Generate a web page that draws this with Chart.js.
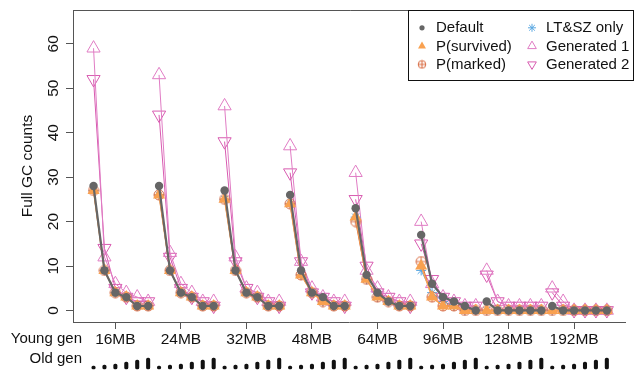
<!DOCTYPE html>
<html>
<head>
<meta charset="utf-8">
<script src="https://cdn.jsdelivr.net/npm/chart.js@4.4.1/dist/chart.umd.min.js"></script>
<style>
  html, body { margin: 0; padding: 0; background: #fff; }
  #wrap { width: 634px; height: 370px; }
</style>
</head>
<body>
<div id="wrap"><canvas id="c" width="634" height="370"></canvas></div>
<script>
// Young generation sizes (one group of runs per size)
const youngGen = ['16MB', '24MB', '32MB', '48MB', '64MB', '96MB', '128MB', '192MB'];
// Old generation size for each run in a group, as a multiple of the young gen
const oldGenFactor = [1, 1.5, 2, 3, 4, 5];
const yTicks = [0, 10, 20, 30, 40, 50, 60];

// Full GC counts, 6 runs per young-gen group
const defaultGC = [28, 9, 4, 3, 1, 1,  28, 9, 4, 3, 1, 1,  27, 9, 4, 3, 1, 1,  26, 9, 4, 3, 1, 1,
                   23, 8, 4, 2, 1, 1,  17, 6, 3, 2, 1, 0,   2, 0, 0, 0, 0, 0,   1, 0, 0, 0, 0, 0];
const pSurvived = [27, 9, 4, 3, 1, 1,  26, 9, 4, 3, 1, 1,  25, 9, 4, 3, 1, 1,  24, 8, 4, 2, 1, 1,
                   21, 7, 3, 2, 1, 1,  10, 3, 1, 1, 0, 0,   0, 0, 0, 0, 0, 0,   0, 0, 0, 0, 0, 0];
const pMarked   = [27, 9, 4, 3, 1, 1,  26, 9, 4, 3, 1, 1,  25, 9, 4, 3, 1, 1,  24, 8, 4, 2, 1, 1,
                   20, 7, 3, 2, 1, 1,  11, 3, 1, 1, 0, 0,   0, 0, 0, 0, 0, 0,   0, 0, 0, 0, 0, 0];
const ltszOnly  = [27, 9, 4, 3, 1, 1,  26, 9, 4, 3, 1, 1,  25, 9, 4, 3, 1, 1,  24, 8, 4, 2, 1, 1,
                   21, 7, 3, 2, 1, 1,   9, 4, 2, 1, 0, 0,   0, 0, 0, 0, 0, 0,   0, 0, 0, 0, 0, 0];
const generated1 = [59, 12, 6, 4, 3, 2,  53, 13, 6, 4, 2, 2,  46, 12, 5, 4, 2, 2,  37, 11, 5, 3, 2, 2,
                    31,  9, 5, 3, 2, 2,  20,  6, 3, 2, 1, 1,   9,  2, 1, 1, 1, 1,   5,  2, 0, 0, 0, 0];
const generated2 = [52, 14, 5, 3, 2, 2,  44, 12, 5, 3, 2, 1,  38, 11, 5, 3, 2, 1,  31, 11, 4, 3, 2, 1,
                    25, 10, 4, 3, 2, 1,  15,  7, 3, 2, 1, 1,   8,  2, 1, 1, 1, 1,   4,  1, 0, 0, 0, 0];

const RUNS = oldGenFactor.length;

// Turn a flat value list into points; a null between groups breaks the line
function toPoints(values) {
  const pts = [];
  youngGen.forEach((_, g) => {
    for (let k = 0; k < RUNS; k++) {
      pts.push({ x: g * RUNS + k + 1, y: values[g * RUNS + k] });
    }
    if (g < youngGen.length - 1) pts.push({ x: g * RUNS + RUNS + 0.5, y: null });
  });
  return pts;
}

// Circle-with-plus marker
function circlePlus(r, color) {
  const c = document.createElement('canvas');
  const s = Math.ceil(2 * r + 2);
  c.width = s; c.height = s;
  const g = c.getContext('2d');
  g.strokeStyle = color; g.lineWidth = 1;
  g.beginPath(); g.arc(s / 2, s / 2, r, 0, Math.PI * 2); g.stroke();
  g.beginPath();
  g.moveTo(s / 2 - r, s / 2); g.lineTo(s / 2 + r, s / 2);
  g.moveTo(s / 2, s / 2 - r); g.lineTo(s / 2, s / 2 + r);
  g.stroke();
  return c;
}

const C_DEFAULT = '#666666';
const C_SURV = '#F9A150';
const C_MARK = '#D86A40';
const C_LTSZ = '#5AA8E2';
const C_GEN1 = '#E07CC4';
const C_GEN2 = '#D85BB0';

const series = [
  { label: 'Default', data: defaultGC, color: C_DEFAULT, lw: 2.2,
    pt: { pointStyle: 'circle', radius: 4.2, fill: true, rotation: 0 },
    lg: { pointStyle: 'circle', radius: 2.6, fill: true, rotation: 0 } },
  { label: 'P(survived)', data: pSurvived, color: C_SURV, lw: 1.5,
    pt: { pointStyle: 'triangle', radius: 7, fill: true, rotation: 0 },
    lg: { pointStyle: 'triangle', radius: 4.6, fill: true, rotation: 0 } },
  { label: 'P(marked)', data: pMarked, color: C_MARK, lw: 1,
    pt: { pointStyle: circlePlus(5, C_MARK), radius: 5, fill: false, rotation: 0 },
    lg: { pointStyle: circlePlus(3.8, C_MARK), radius: 4, fill: false, rotation: 0 } },
  { label: 'LT&SZ only', data: ltszOnly, color: C_LTSZ, lw: 1,
    pt: { pointStyle: 'star', radius: 5, fill: false, rotation: 0 },
    lg: { pointStyle: 'star', radius: 4, fill: false, rotation: 0 } },
  { label: 'Generated 1', data: generated1, color: C_GEN1, lw: 1,
    pt: { pointStyle: 'triangle', radius: 7.6, fill: false, rotation: 0 },
    lg: { pointStyle: 'triangle', radius: 5, fill: false, rotation: 0 } },
  { label: 'Generated 2', data: generated2, color: C_GEN2, lw: 1,
    pt: { pointStyle: 'triangle', radius: 7.6, fill: false, rotation: 180 },
    lg: { pointStyle: 'triangle', radius: 5, fill: false, rotation: 180 } }
];

const lineSets = series.map(s => ({
  type: 'line',
  label: s.label,
  data: toPoints(s.data),
  borderColor: s.color,
  borderWidth: s.lw,
  backgroundColor: s.pt.fill ? s.color : 'rgba(0,0,0,0)',
  pointStyle: s.pt.pointStyle,
  pointRadius: s.pt.radius,
  pointRotation: s.pt.rotation,
  pointBorderWidth: s.pt.fill ? 0 : 1,
  pointBorderColor: s.color,
  pointBackgroundColor: s.pt.fill ? s.color : 'rgba(0,0,0,0)',
  tension: 0,
  spanGaps: false,
  fill: false,
  yAxisID: 'y'
}));

// Old gen size marks under the x axis: bar height grows with the old gen factor
const OLD_BASE = -47;  // in yOld units (1 unit = 1 px below the plot bottom)
const oldGenSet = {
  type: 'bar',
  label: 'Old gen',
  yAxisID: 'yOld',
  data: youngGen.flatMap((_, g) => oldGenFactor.map((f, k) => ({
    x: g * RUNS + k + 1,
    y: [OLD_BASE, OLD_BASE + 1 + 2 * f]
  }))),
  backgroundColor: '#111',
  barThickness: 3.4,
  borderRadius: 2,
  borderSkipped: false,
  grouped: false,
  clip: false
};

const FONT = '"Liberation Sans", Arial, Helvetica, sans-serif';
Chart.defaults.font.family = FONT;
Chart.defaults.color = '#111';

const framePlugin = {
  id: 'frame',
  afterDraw(chart) {
    const { ctx, chartArea: a } = chart;
    ctx.save();
    ctx.strokeStyle = '#555';
    ctx.lineWidth = 1;
    ctx.beginPath();
    ctx.moveTo(a.left, Math.round(a.top) + 0.5);
    ctx.lineTo(a.right + 2, Math.round(a.top) + 0.5);
    ctx.stroke();

    // row captions left of the x axis labels
    const xs = chart.scales.x;
    ctx.fillStyle = '#111';
    ctx.font = '15px ' + FONT;
    ctx.textAlign = 'right';
    ctx.textBaseline = 'alphabetic';
    ctx.fillText('Young gen', 82, xs.top + 20.5);
    ctx.fillText('Old gen', 82, xs.top + 40.5);
    ctx.restore();
  }
};

const legendPlugin = {
  id: 'boxLegend',
  afterDraw(chart) {
    const { ctx, chartArea: a } = chart;
    const left = 408.5, top = Math.round(a.top) + 0.5, right = 633.5, bottom = 80.5;
    ctx.save();
    ctx.fillStyle = '#fff';
    ctx.fillRect(left, top, right - left, bottom - top);
    ctx.strokeStyle = '#111';
    ctx.lineWidth = 1;
    ctx.strokeRect(left, top, right - left, bottom - top);
    const cols = [422, 532];
    const rows = [27.8, 46.1, 64.4];
    ctx.font = '15px ' + FONT;
    ctx.textBaseline = 'middle';
    ctx.textAlign = 'left';
    series.forEach((s, i) => {
      const col = Math.floor(i / 3), row = i % 3;
      const x = cols[col], y = rows[row];
      ctx.save();
      ctx.fillStyle = s.lg.fill ? s.color : 'rgba(0,0,0,0)';
      ctx.strokeStyle = s.color;
      ctx.lineWidth = 1;
      Chart.helpers.drawPoint(ctx, {
        pointStyle: s.lg.pointStyle,
        radius: s.lg.radius,
        rotation: s.lg.rotation,
        borderWidth: s.lg.fill ? 0 : 1
      }, x, y);
      ctx.restore();
      ctx.fillStyle = '#111';
      ctx.fillText(s.label, x + 14, y + 0.5);
    });
    ctx.restore();
  }
};

new Chart(document.getElementById('c'), {
  type: 'line',
  data: { datasets: [...lineSets, oldGenSet] },
  options: {
    responsive: false,
    animation: false,
    events: [],
    layout: { padding: { top: 10, left: 0, right: 0, bottom: 0 } },
    plugins: { legend: { display: false }, tooltip: { enabled: false } },
    scales: {
      x: {
        type: 'linear',
        min: -0.88,
        max: 49.7,
        offset: false,
        afterBuildTicks: s => { s.ticks = youngGen.map((_, g) => ({ value: g * RUNS + 3 })); },
        afterFit: s => { s.height = 48; s.paddingLeft = 0; s.paddingRight = 0; },
        ticks: {
          callback: (v, i) => youngGen[i],
          font: { size: 15.5 },
          color: '#111',
          padding: 1,
          maxRotation: 0,
          minRotation: 0,
          autoSkip: false
        },
        grid: { offset: false, drawOnChartArea: false, drawTicks: true, tickLength: 7, color: '#555', tickWidth: 1 },
        border: { display: true, color: '#555', width: 1 }
      },
      y: {
        type: 'linear',
        min: -2.6,
        max: 67.6,
        afterBuildTicks: s => { s.ticks = yTicks.map(v => ({ value: v })); },
        afterFit: s => { s.width = 73; s.paddingTop = 0; s.paddingBottom = 0; },
        ticks: {
          minRotation: 90,
          maxRotation: 90,
          crossAlign: 'center',
          padding: 4,
          font: { size: 15.5 },
          color: '#111'
        },
        title: {
          display: true,
          text: 'Full GC counts',
          font: { size: 15.5 },
          color: '#111',
          padding: { top: 18, bottom: 0 }
        },
        grid: { drawOnChartArea: false, drawTicks: true, tickLength: 7, color: '#555', tickWidth: 1 },
        border: { display: true, color: '#555', width: 1 }
      },
      yOld: {
        type: 'linear',
        display: false,
        min: 0,
        max: 312
      }
    }
  },
  plugins: [framePlugin, legendPlugin]
});
</script>
</body>
</html>
